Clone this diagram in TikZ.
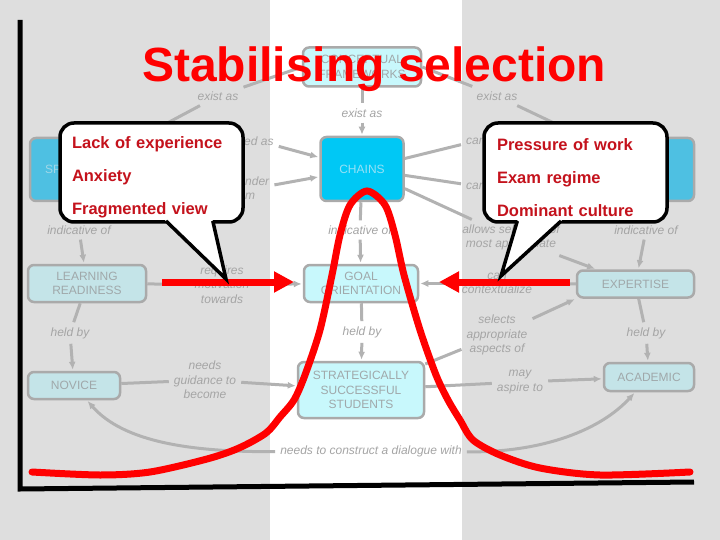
\documentclass[tikz,border=0pt]{standalone}
\usepackage{fontspec}
\setmainfont{Liberation Sans}
\usetikzlibrary{arrows.meta}
\definecolor{bggrey}{RGB}{222,222,222}
\definecolor{boxgrey}{RGB}{170,170,170}
\definecolor{linegrey}{RGB}{178,178,178}
\definecolor{labgrey}{RGB}{165,165,165}
\definecolor{txtgrey}{RGB}{160,168,170}
\definecolor{tealbox}{RGB}{196,228,232}
\definecolor{cyanbox}{RGB}{200,248,252}
\definecolor{chainblue}{RGB}{0,200,245}
\definecolor{chaintxt}{RGB}{150,225,245}
\definecolor{dimblue}{RGB}{78,192,226}
\definecolor{sptxt}{RGB}{160,215,232}
\definecolor{myred}{RGB}{255,0,0}
\definecolor{darkred}{RGB}{196,18,28}

\begin{document}
\begin{tikzpicture}[x=1pt,y=1pt,yscale=-1,
  cbox/.style={draw=boxgrey,line width=2.5pt,rounded corners=6pt,text=txtgrey,align=center,
    font=\fontsize{12}{14.5}\selectfont,inner sep=0pt},
  clabel/.style={text=labgrey,align=center,font=\itshape\fontsize{12}{14.5}\selectfont,inner sep=5pt},
  cline/.style={draw=linegrey,line width=3pt},
  carrow/.style={cline,-{Latex[length=8pt,width=7pt]},shorten >=1pt},
  callout/.style={draw=black,fill=white,line width=3.5pt,rounded corners=14pt,text=darkred,
    align=left,font=\bfseries\fontsize{16.5}{33}\selectfont,minimum width=183,minimum height=99},
  tail/.style={draw=black,line width=3.5pt,line join=miter},
  redarrow/.style={draw=myred,line width=7pt,-{Triangle[length=20pt,width=20pt]}},
  bell/.style={draw=myred,line width=7pt,line cap=round},
  axis/.style={draw=black,line width=5pt}]

\useasboundingbox (0,0) rectangle (720,540);
\fill[bggrey] (0,0) rectangle (720,540);
\fill[white] (270,0) rectangle (462,540);

% concept map
\node[cbox,fill=cyanbox,minimum width=118,minimum height=39] (cf) at (362,67) {CONCEPTUAL\\FRAMEWORKS};
\node[cbox,fill=dimblue,text=sptxt,minimum width=100,minimum height=63,align=left,text width=70] (spL) at (80,169.5) {SP};
\node[cbox,fill=dimblue,minimum width=84,minimum height=63] (spR) at (652,169.5) {};
\node[cbox,fill=chainblue,text=chaintxt,minimum width=83,minimum height=64] (ch) at (362,169) {CHAINS};
\node[cbox,fill=tealbox,minimum width=118,minimum height=37] (lr) at (87,283.5) {LEARNING\\READINESS};
\node[cbox,fill=cyanbox,minimum width=114,minimum height=37] (go) at (361,283.5) {GOAL\\ORIENTATION};
\node[cbox,fill=tealbox,minimum width=92,minimum height=27] (nov) at (74,385.5) {NOVICE};
\node[cbox,fill=cyanbox,minimum width=126,minimum height=56] (sss) at (361,390) {STRATEGICALLY\\SUCCESSFUL\\STUDENTS};
\node[cbox,fill=tealbox,minimum width=117,minimum height=27] (exp) at (635.5,284) {EXPERTISE};
\node[cbox,fill=tealbox,minimum width=90,minimum height=28] (aca) at (649,377) {ACADEMIC};

\node[clabel] (exL) at (218,96) {exist as};
\node[clabel] (exR) at (497,96) {exist as};
\node[clabel] (exC) at (362,113) {exist as};
\node[clabel,anchor=west] (edas) at (239,141) {ed as};
\node[clabel,anchor=west,align=left] (nder) at (240,188) {nder\\m};
\node[clabel,anchor=west] (can1) at (461,141) {can};
\node[clabel,anchor=west] (can2) at (461,186) {can};
\node[clabel] (indL) at (79,230) {indicative of};
\node[clabel] (indC) at (360,230) {indicative of};
\node[clabel] (indR) at (646,230) {indicative of};
\node[clabel] (allows) at (511,237.5) {allows selection of\\most appropriate};
\node[clabel] (req) at (222,284.5) {requires\\motivation\\towards};
\node[clabel] (heldL) at (70,333) {held by};
\node[clabel] (heldC) at (362,332) {held by};
\node[clabel] (heldR) at (646,333) {held by};
\node[clabel] (needs) at (205,380) {needs\\guidance to\\become};
\node[clabel] (cont) at (497,283.5) {can\\contextualize};
\node[clabel] (sel) at (497,335) {selects\\appropriate\\aspects of};
\node[clabel] (asp) at (520,382) {may\\aspire to};
\node[clabel] (dia) at (371,451) {needs to construct a dialogue with};

\draw[cline] (cf.west) -- (exL);
\draw[carrow] (exL) -- (spL);
\draw[cline] (cf.east) -- (exR);
\draw[carrow] (exR) -- (spR);
\draw[cline] (cf) -- (exC);
\draw[carrow] (exC) -- (ch);
\draw[carrow] (edas) -- (ch);
\draw[carrow] (nder) -- (ch);
\draw[cline] (ch) -- (can1);
\draw[cline] (ch) -- (can2);
\draw[cline] (ch) -- (allows);
\draw[carrow] (allows) -- (exp);
\draw[cline] (ch) -- (indC);
\draw[carrow] (indC) -- (go);
\draw[cline] (spL) -- (indL);
\draw[carrow] (indL) -- (lr);
\draw[cline] (spR) -- (indR);
\draw[carrow] (indR) -- (exp);
\draw[cline] (lr) -- (req);
\draw[carrow] (req) -- (go);
\draw[cline] (lr) -- (heldL);
\draw[carrow] (heldL) -- (nov);
\draw[cline] (go) -- (heldC);
\draw[carrow] (heldC) -- (sss);
\draw[cline] (exp) -- (cont);
\draw[carrow] (cont) -- (go);
\draw[cline] (sss) -- (sel);
\draw[carrow] (sel) -- (exp.south west);
\draw[cline] (sss) -- (asp);
\draw[carrow] (asp) -- (aca);
\draw[cline] (exp) -- (heldR);
\draw[carrow] (heldR) -- (aca);
\draw[cline] (nov) -- (needs);
\draw[carrow] (needs) -- (sss);
\draw[carrow] (dia) to[out=185,in=60] (nov);
\draw[carrow] (dia) to[out=-5,in=120] (aca);

% red arrows
\coordinate (la1) at (162,282);
\coordinate (la2) at (294,282);
\coordinate (ra1) at (570,282);
\coordinate (ra2) at (439,282);
\draw[redarrow] (la1) -- (la2);
\draw[redarrow] (ra1) -- (ra2);

% callouts
\node[callout,text width=159,inner xsep=12] (lackbox) at (151.5,172.5) {\rule{0pt}{22pt}Lack of experience\\Anxiety\\Fragmented view};
\coordinate (ltip) at (226,279);
\fill[white] (163.9,219) -- (ltip) -- (212.3,219) -- cycle;
\draw[tail] (166,221) -- (ltip) -- (212.8,221);

\node[callout,text width=157,inner xsep=13] (presbox) at (575.5,172.5) {\rule{0pt}{22pt}Pressure of work\\Exam regime\\Dominant culture};
\coordinate (rtip) at (501,276);
\fill[white] (517.9,219) -- (rtip) -- (563.3,219) -- cycle;
\draw[tail] (517.3,221) -- (rtip) -- (561.1,221);

% bell curve
\draw[bell] plot[smooth] coordinates {(32,472) (100,475) (150,472) (207,459) (239,448) (266,433)
  (280,417) (294,400) (305,375) (320,330) (332,275) (340,235) (350,205) (367,191) (385,205)
  (395,235) (404,275) (420,330) (436,375) (448,400) (460,420) (473,440) (500,455) (540,468)
  (600,475) (690,472)};

\node[anchor=base west,inner sep=0,text=myred,font=\bfseries\fontsize{48}{48}\selectfont] (ttl) at (142,82) {Stabilising selection};

\coordinate (ytop) at (20,20);
\coordinate (orig) at (20,489);
\coordinate (xend) at (694,482);
\draw[axis] (ytop) -- (orig) -- (xend);
\end{tikzpicture}
\end{document}
